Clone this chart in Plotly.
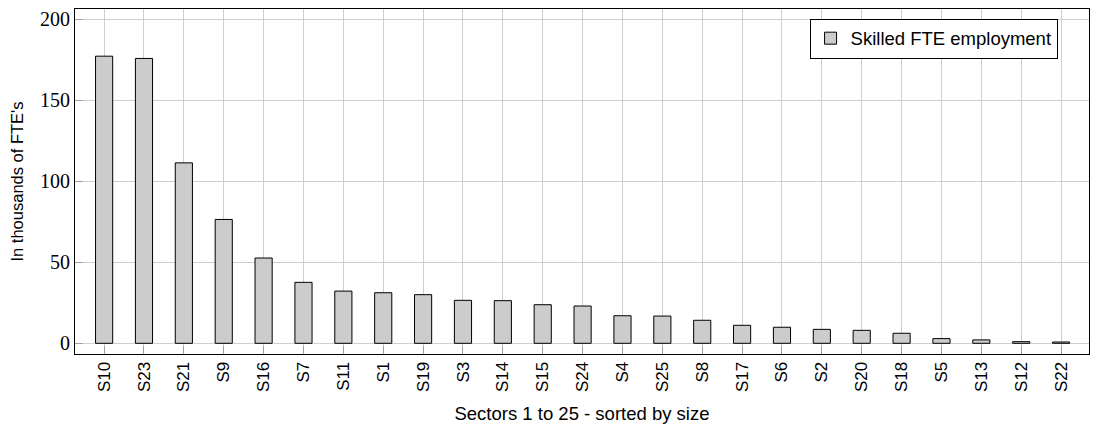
import plotly.graph_objects as go

sectors = ["S10", "S23", "S21", "S9", "S16", "S7", "S11", "S1", "S19", "S3", "S14", "S15", "S24",
           "S4", "S25", "S8", "S17", "S6", "S2", "S20", "S18", "S5", "S13", "S12", "S22"]
skilled_fte = [177.1, 175.7, 111.3, 76.4, 52.6, 37.6, 32.2, 31.2, 30.0, 26.5, 26.3, 23.8, 23.0,
               17.0, 16.8, 14.2, 11.1, 9.9, 8.6, 8.0, 6.2, 2.9, 2.1, 1.0, 0.8]
y_ticks = [0, 50, 100, 150, 200]

fig = go.Figure()
fig.add_trace(go.Bar(
    x=sectors, y=skilled_fte, name="Skilled FTE employment",
    marker=dict(color="#cccccc", line=dict(color="black", width=1)),
    showlegend=True,
))

grid = "#cfcfcf"
sans = "Liberation Sans, Arial"
fig.update_layout(
    width=1095, height=428,
    margin=dict(l=75, r=6, t=9, b=74),
    paper_bgcolor="white", plot_bgcolor="white",
    bargap=0.57,
    showlegend=True,
    legend=dict(
        x=0.969, y=0.972, xanchor="right", yanchor="top",
        bordercolor="black", borderwidth=1, bgcolor="white",
        font=dict(family=sans, size=18.5, color="black"),
        itemwidth=30,
    ),
    xaxis=dict(
        type="category", range=[-0.73, 24.7], automargin=False,
        showgrid=True, gridcolor=grid, gridwidth=1,
        showline=True, linecolor="black", linewidth=1, mirror=True,
        ticks="inside", ticklen=8, tickcolor="#a0a0a0",
        tickangle=-90,
        tickfont=dict(family=sans, size=17, color="black"),
        title=dict(text="Sectors 1 to 25 - sorted by size",
                   font=dict(family=sans, size=18.5, color="black"),
                   standoff=16),
    ),
    yaxis=dict(
        range=[-6.6, 206.2], automargin=False,
        tickvals=y_ticks,
        showgrid=True, gridcolor=grid, gridwidth=1,
        zeroline=False,
        showline=True, linecolor="black", linewidth=1, mirror=True,
        ticks="inside", ticklen=8, tickcolor="#a0a0a0",
        tickfont=dict(family="Liberation Serif, DejaVu Serif", size=20, color="black"),
        title=dict(text="In thousands of FTE's",
                   font=dict(family=sans, size=16.5, color="black"),
                   standoff=12),
    ),
)

fig.write_html(
    "out.html",
    config={"displayModeBar": False},
    post_script="document.body.style.margin='0';document.body.style.overflow='hidden';",
)
